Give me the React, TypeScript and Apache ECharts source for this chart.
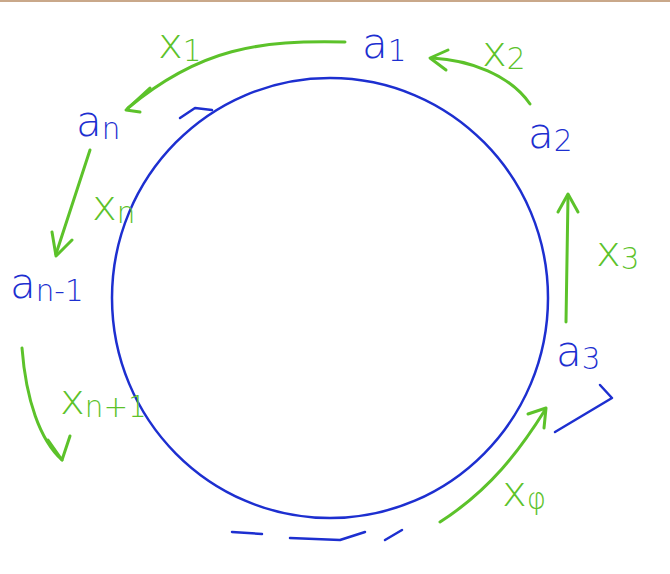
import React, { useEffect, useRef } from "react";
import * as echarts from "echarts";

const BLUE = "#1d2fd0";
const GREEN = "#5cc22a";
const nodeLabels = [
  { main: "a", sub: "1", x: 362, y: 22 },
  { main: "a", sub: "2", x: 528, y: 112 },
  { main: "a", sub: "3", x: 556, y: 330 },
  { main: "a", sub: "n", x: 76, y: 100 },
  { main: "a", sub: "n-1", x: 10, y: 262 },
];
const edgeLabels = [
  { main: "x", sub: "1", x: 158, y: 22 },
  { main: "x", sub: "2", x: 482, y: 30 },
  { main: "x", sub: "3", x: 596, y: 230 },
  { main: "x", sub: "n", x: 92, y: 184 },
  { main: "x", sub: "n+1", x: 60, y: 378 },
  { main: "x", sub: "φ", x: 502, y: 470 },
];

function label(l: any, color: string, big: number) {
  return {
    type: "text",
    x: l.x,
    y: l.y,
    style: {
      text: `{m|${l.main}}{s|${l.sub}}`,
      rich: {
        m: { fontSize: big, fill: color, fontFamily: "DejaVu Sans ExtraLight, DejaVu Sans", fontWeight: 300 },
        s: { fontSize: big * 0.7, fill: color, fontFamily: "DejaVu Sans ExtraLight, DejaVu Sans", fontWeight: 300, verticalAlign: "bottom", padding: [big * 0.35, 0, 0, 0] },
      },
    },
  };
}
const line = (pts: number[][], color = GREEN, w = 3) => ({
  type: "polyline",
  shape: { points: pts },
  style: { stroke: color, lineWidth: w, fill: null, lineCap: "round", lineJoin: "round" },
});
const curve = (x1: number, y1: number, cpx1: number, cpy1: number, cpx2: number, cpy2: number, x2: number, y2: number, color = GREEN) => ({
  type: "bezierCurve",
  shape: { x1, y1, cpx1, cpy1, cpx2, cpy2, x2, y2 },
  style: { stroke: color, lineWidth: 3, fill: null, lineCap: "round" },
});

export default function App() {
  const ref = useRef<HTMLDivElement>(null);
  useEffect(() => {
    const chart = echarts.init(ref.current!, null, { renderer: "svg" });
    chart.setOption({
      animation: false,
      backgroundColor: "#fff",
      graphic: [
        { type: "rect", shape: { x: 0, y: 0, width: 670, height: 2 }, style: { fill: "#c9a88a" } },
        { type: "ellipse", shape: { cx: 330, cy: 298, rx: 218, ry: 220 }, style: { stroke: BLUE, lineWidth: 2.5, fill: null } },
        line([[180, 118], [195, 108], [212, 110]], BLUE, 2.5),
        line([[555, 432], [612, 398], [600, 385]], BLUE, 2.5),
        line([[232, 532], [262, 534]], BLUE, 2.5),
        line([[290, 538], [340, 540], [365, 532]], BLUE, 2.5),
        line([[385, 540], [402, 530]], BLUE, 2.5),
        curve(345, 42, 260, 40, 200, 48, 128, 108),
        line([[150, 88], [126, 110], [140, 112]]),
        curve(530, 104, 510, 75, 470, 60, 432, 58),
        line([[448, 50], [430, 58], [446, 70]]),
        line([[566, 322], [568, 196]]),
        line([[558, 212], [568, 194], [578, 212]]),
        line([[90, 150], [56, 254]]),
        line([[52, 232], [56, 256], [72, 240]]),
        curve(22, 348, 26, 400, 40, 440, 62, 460),
        line([[48, 440], [62, 460], [70, 436]]),
        curve(440, 522, 490, 490, 520, 450, 545, 410),
        line([[528, 414], [546, 408], [544, 428]]),
        ...nodeLabels.map((l) => label(l, BLUE, 42)),
        ...edgeLabels.map((l) => label(l, GREEN, 42)),
      ],
    });
    return () => chart.dispose();
  }, []);
  return <div ref={ref} style={{ position: "fixed", left: 0, top: 0, width: 670, height: 574 }} />;
}
